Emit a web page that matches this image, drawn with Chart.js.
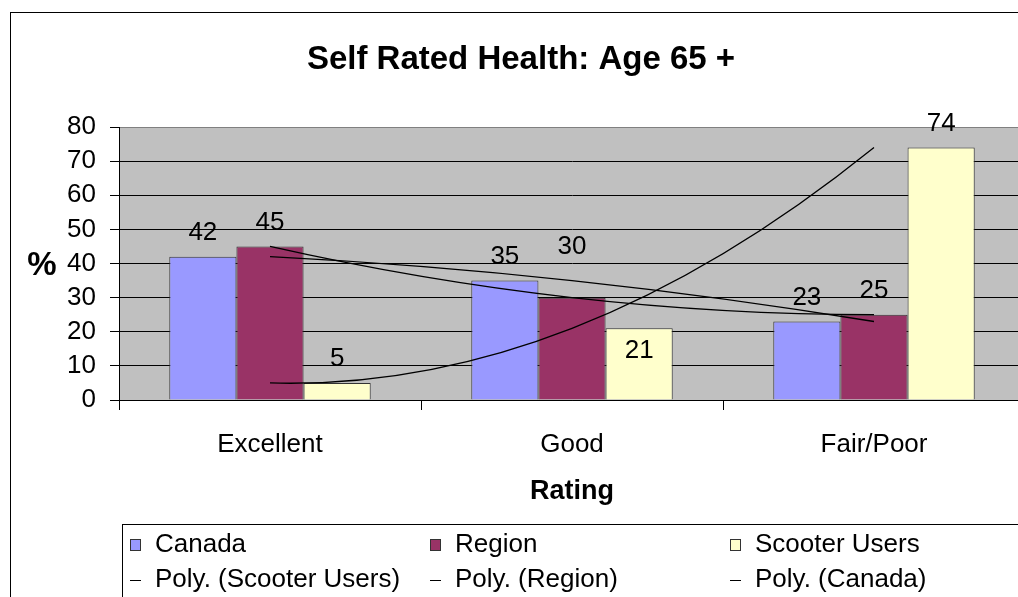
<!DOCTYPE html>
<html>
<head>
<meta charset="utf-8">
<script src="https://cdn.jsdelivr.net/npm/chart.js@4/dist/chart.umd.min.js"></script>
<style>
  html, body { margin: 0; padding: 0; background: #fff; }
  #wrap { position: relative; width: 1018px; height: 597px; overflow: hidden; }
  #grafico { position: absolute; left: 0; top: 0; }
</style>
</head>
<body>
<div id="wrap"><canvas id="grafico" width="1040" height="620"></canvas></div>
<script>
// dados
const categorias = ['Excellent', 'Good', 'Fair/Poor'];
const canada = [42, 35, 23];
const region = [45, 30, 25];
const scooter = [5, 21, 74];
const yMax = 80;
const yStep = 10;

const titulo = 'Self Rated Health: Age 65 +';
const tituloX = 'Rating';
const tituloY = '%';

// rótulos movidos à mão no original (px, positivo = mais para cima)
const ajusteRotulo = { 'Region|1': 27, 'Scooter Users|1': -46 };

const FONTE = '"Liberation Sans", Arial, sans-serif';

const barra = (label, data, cor) => ({
    type: 'bar', label, data,
    backgroundColor: cor, borderColor: '#333', borderWidth: 1,
    categoryPercentage: 0.667, barPercentage: 1, order: 2
});
const tendencia = (nome, data) => ({
    type: 'line', label: 'Poly. (' + nome + ')', data,
    borderColor: '#000', borderWidth: 1.3, pointRadius: 0,
    cubicInterpolationMode: 'monotone', fill: false, order: 1
});

const visual = {
    id: 'visual',
    beforeDraw(chart) {
        const { ctx, chartArea: a } = chart;
        ctx.save();
        ctx.fillStyle = '#fff';
        ctx.fillRect(0, 0, chart.width, chart.height);
        ctx.strokeStyle = '#000';
        ctx.lineWidth = 1;
        ctx.strokeRect(10.5, 12.5, chart.width, chart.height);
        ctx.fillStyle = '#c0c0c0';
        ctx.fillRect(a.left, a.top, a.right - a.left, a.bottom - a.top);
        ctx.strokeStyle = '#808080';
        ctx.strokeRect(a.left + 0.5, a.top + 0.5, a.right - a.left, a.bottom - a.top);
        ctx.restore();
    },
    // tendência polinomial (2ª ordem): tangentes da parábola pelos 3 pontos
    beforeDatasetDraw(chart, args) {
        const meta = args.meta;
        if (meta.type !== 'line' || meta.data.length !== 3) return;
        meta.dataset.updateControlPoints(chart.chartArea);
        const p = meta.data;
        const y0 = p[0].y, y1 = p[1].y, y2 = p[2].y;
        const m = [(-3 * y0 + 4 * y1 - y2) / 2, (y2 - y0) / 2, (y0 - 4 * y1 + 3 * y2) / 2];
        p.forEach((pt, i) => {
            const h = (i < 2 ? p[i + 1].x - pt.x : pt.x - p[i - 1].x) / 3;
            pt.cp1x = pt.x - h; pt.cp1y = pt.y - m[i] / 3;
            pt.cp2x = pt.x + h; pt.cp2y = pt.y + m[i] / 3;
        });
    },
    afterDatasetsDraw(chart) {
        const ctx = chart.ctx;
        ctx.save();
        ctx.font = '26px ' + FONTE;
        ctx.fillStyle = '#000';
        ctx.textAlign = 'center';
        ctx.textBaseline = 'middle';
        chart.data.datasets.forEach((ds, i) => {
            if (ds.type !== 'bar') return;
            chart.getDatasetMeta(i).data.forEach((el, j) => {
                const extra = ajusteRotulo[ds.label + '|' + j] || 0;
                ctx.fillText(ds.data[j], el.x, el.y - 24 - extra);
            });
        });
        ctx.restore();
    },
    afterDraw(chart) {
        const { ctx, chartArea: a } = chart;
        ctx.save();
        ctx.fillStyle = '#000';
        ctx.textBaseline = 'middle';
        ctx.textAlign = 'center';
        ctx.font = 'bold 33px ' + FONTE;
        ctx.fillText(titulo, 521, 60);
        ctx.font = 'bold 27px ' + FONTE;
        ctx.fillText(tituloX, (a.left + a.right) / 2, 492);
        ctx.font = 'bold 33px ' + FONTE;
        ctx.fillText(tituloY, 42, 266);

        // legenda
        ctx.strokeStyle = '#000';
        ctx.lineWidth = 1;
        ctx.strokeRect(122.5, 524.5, chart.width, chart.height);
        const colunas = [130, 430, 730];
        const linhas = [545, 580];
        const itens = chart.data.datasets;
        ctx.font = '26px ' + FONTE;
        ctx.textAlign = 'left';
        itens.forEach((ds, k) => {
            const x = colunas[k % 3];
            const y = linhas[Math.floor(k / 3)];
            if (ds.type === 'bar') {
                ctx.fillStyle = ds.backgroundColor;
                ctx.fillRect(x, y - 6, 11, 12);
                ctx.strokeStyle = '#333';
                ctx.strokeRect(x + 0.5, y - 5.5, 10, 11);
            } else {
                ctx.strokeStyle = '#000';
                ctx.beginPath();
                ctx.moveTo(x, y + 0.5);
                ctx.lineTo(x + 11, y + 0.5);
                ctx.stroke();
            }
            ctx.fillStyle = '#000';
            ctx.fillText(ds.label, x + 25, y);
        });
        ctx.restore();
    }
};

new Chart(document.getElementById('grafico'), {
    data: {
        labels: categorias,
        datasets: [
            barra('Canada', canada, '#9999ff'),
            barra('Region', region, '#993366'),
            barra('Scooter Users', scooter, '#ffffcc'),
            tendencia('Scooter Users', scooter),
            tendencia('Region', region),
            tendencia('Canada', canada)
        ]
    },
    options: {
        responsive: false,
        animation: false,
        devicePixelRatio: 1,
        layout: { padding: { left: 0, top: 127, right: 15, bottom: 120 } },
        plugins: { legend: { display: false }, title: { display: false }, tooltip: { enabled: false } },
        scales: {
            x: {
                offset: true,
                afterFit: s => { s.height = 100; },
                grid: { offset: true, drawOnChartArea: false, color: '#000', tickLength: 10 },
                border: { display: true, color: '#000' },
                ticks: { font: { family: FONTE, size: 26 }, color: '#000', padding: 19, maxRotation: 0 }
            },
            y: {
                min: 0, max: yMax,
                afterFit: s => { s.width = 119; },
                grid: {
                    color: c => c.tick && c.tick.value === yMax ? '#808080' : '#000',
                    tickColor: '#000',
                    tickLength: 9
                },
                border: { display: true, color: '#000' },
                ticks: { stepSize: yStep, autoSkip: false, font: { family: FONTE, size: 26 }, color: '#000', padding: 14 }
            }
        }
    },
    plugins: [visual]
});
</script>
</body>
</html>
